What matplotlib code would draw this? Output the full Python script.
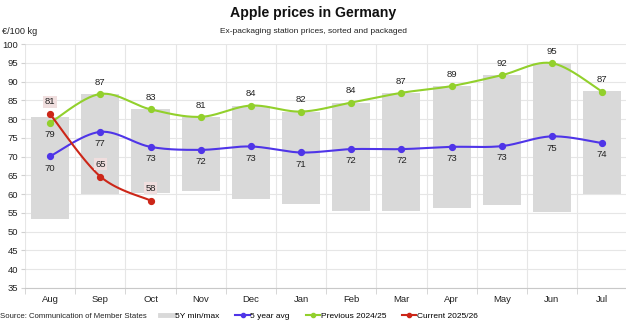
import numpy as np
import matplotlib
matplotlib.use("Agg")
import matplotlib.pyplot as plt
from matplotlib.lines import Line2D

plt.rcParams['font.family'] = ['Liberation Sans', 'DejaVu Sans']

months = ["Aug", "Sep", "Oct", "Nov", "Dec", "Jan", "Feb", "Mar", "Apr", "May", "Jun", "Jul"]
range_min = [53.5, 60.0, 60.4, 60.9, 58.7, 57.4, 55.5, 55.5, 56.2, 57.1, 55.2, 60.1]
range_max = [80.6, 86.7, 82.6, 80.6, 83.5, 82.0, 84.4, 87.0, 88.8, 91.7, 94.9, 87.5]
avg_5y = [70.1, 76.6, 72.6, 71.8, 72.7, 71.1, 72.0, 72.0, 72.6, 72.8, 75.4, 73.6]
prev_season = [79.0, 86.7, 82.6, 80.6, 83.6, 82.0, 84.4, 87.0, 88.8, 91.7, 94.9, 87.3]
curr_season = [81.3, 64.7, 58.3]

GREY = "#d9d9d9"
BLUE = "#4f35e8"
GREEN = "#92d02c"
RED = "#cc2618"


def smooth(y, n=30):
    # Catmull-Rom style bezier through every point, like a spreadsheet "smoothed line"
    y = np.asarray(y, dtype=float)
    x = np.arange(len(y), dtype=float)
    pts = np.column_stack([x, y])
    out = [pts[0]]
    t = np.linspace(0, 1, n)[1:]
    for i in range(len(pts) - 1):
        p0 = pts[max(i - 1, 0)]
        p1 = pts[i]
        p2 = pts[i + 1]
        p3 = pts[min(i + 2, len(pts) - 1)]
        c1 = p1 + (p2 - p0) / 6
        c2 = p2 - (p3 - p1) / 6
        seg = ((1 - t) ** 3)[:, None] * p1 + (3 * (1 - t) ** 2 * t)[:, None] * c1 \
            + (3 * (1 - t) * t ** 2)[:, None] * c2 + (t ** 3)[:, None] * p2
        out.extend(seg)
    out = np.array(out)
    return out[:, 0], out[:, 1]


fig = plt.figure(figsize=(6.26, 3.22), dpi=100)
ax = fig.add_axes([0.040, 0.1056, 0.962, 0.7577])

x = np.arange(len(months))
ax.bar(x, np.array(range_max) - np.array(range_min), bottom=range_min,
       width=0.76, color=GREY, zorder=1)

for vals, col in [(avg_5y, BLUE), (prev_season, GREEN), (curr_season, RED)]:
    sx, sy = smooth(vals)
    ax.plot(sx, sy, color=col, lw=1.5, zorder=3, solid_capstyle='round')
    ax.plot(np.arange(len(vals)), vals, 'o', color=col, ms=4.2, zorder=4)

lbl = dict(ha='center', va='center', fontsize=6.8, color='#222222', zorder=5)
for i, v in enumerate(avg_5y):
    ax.annotate(f"{v:.0f}", (i, v), xytext=(0, -8.5), textcoords='offset points', **lbl)
for i, v in enumerate(prev_season):
    dy = -8.5 if i == 0 else 8.5
    ax.annotate(f"{v:.0f}", (i, v), xytext=(0, dy), textcoords='offset points', **lbl)
for i, v in enumerate(curr_season):
    ax.annotate(f"{v:.0f}", (i, v), xytext=(0, 9), textcoords='offset points',
                bbox=dict(boxstyle='square,pad=0.15', fc='#f0dede', ec='none'), **lbl)

ax.set_xlim(-0.5, 11.5)
ax.set_ylim(35, 100)
ax.set_yticks(np.arange(35, 101, 5))
ax.set_xticks(x)
ax.set_xticklabels(months)
ax.set_xticks(np.arange(-0.5, 12, 1), minor=True)
ax.grid(axis='y', color='#e6e6e6', lw=0.8, zorder=0)
ax.grid(axis='x', which='minor', color='#e6e6e6', lw=0.8, zorder=0)
ax.set_axisbelow(True)
ax.tick_params(axis='x', which='major', length=0, labelsize=6.8, pad=5, colors='#222222')
ax.tick_params(axis='x', which='minor', length=4, color='#d0d0d0')
ax.tick_params(axis='y', length=3, color='#d0d0d0', labelsize=6.8, pad=2, colors='#222222')
for s in ['top', 'right', 'left']:
    ax.spines[s].set_visible(False)
ax.spines['bottom'].set_color('#c8c8c8')

fig.text(0.5, 0.960, "Apple prices in Germany", ha='center', va='center',
         fontsize=10.2, fontweight='bold', color='#111111')
fig.text(0.5, 0.903, "Ex-packaging station prices, sorted and packaged", ha='center',
         va='center', fontsize=6.0, color='#222222')
fig.text(0.003, 0.902, "€/100 kg", ha='left', va='center', fontsize=6.6, color='#222222')
fig.text(0.0, 0.018, "Source: Communication of Member States", ha='left', va='center',
         fontsize=5.6, color='#222222')

handles = [
    Line2D([], [], color=GREY, lw=3.5),
    Line2D([], [], color=BLUE, lw=1.5, marker='o', ms=3),
    Line2D([], [], color=GREEN, lw=1.5, marker='o', ms=3),
    Line2D([], [], color=RED, lw=1.5, marker='o', ms=3),
]
labels = ["5Y min/max", "5 year avg", "Previous 2024/25", "Current 2025/26"]
fig.legend(handles, labels, loc='center left', bbox_to_anchor=(0.256, 0.018), ncol=4,
           frameon=False, fontsize=6.0, handlelength=1.7, handletextpad=0.1,
           columnspacing=1.9, borderpad=0, borderaxespad=0)

fig.savefig("out.png", dpi=100)
